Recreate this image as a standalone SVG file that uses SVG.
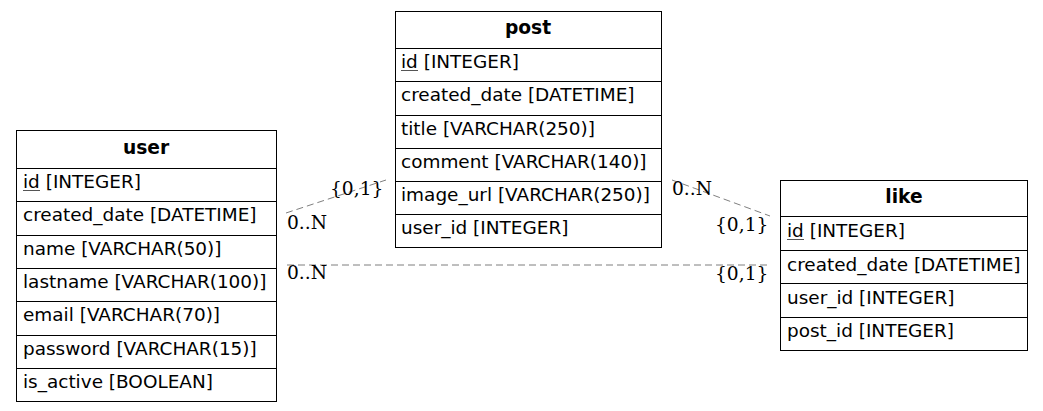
<svg xmlns="http://www.w3.org/2000/svg" width="1043" height="411" viewBox="0 0 1043 411">
<style>
.box{fill:#fff;stroke:#000;stroke-width:1}
.ln{stroke:#000;stroke-width:1}
.ul{stroke:#555;stroke-width:1}
.h{font-family:"DejaVu Sans",sans-serif;font-size:18.67px;font-weight:bold;text-anchor:middle;fill:#000}
.t{font-family:"DejaVu Sans",sans-serif;font-size:18.45px;fill:#000}
.c{fill:none;stroke:#7f7f7f;stroke-width:1;stroke-dasharray:7,4}
.lb{font-family:"DejaVu Serif",serif;font-size:18.67px;fill:#000}
</style>
<rect width="1043" height="411" fill="#fff"/>
<g id="connectors">
<line class="c" x1="286" y1="213" x2="386" y2="180"/>
<text class="lb" x="330" y="195">{0,1}</text>
<text class="lb" x="287" y="229">0..N</text>
<line class="c" x1="672" y1="180" x2="770" y2="216"/>
<text class="lb" x="672" y="195">0..N</text>
<text class="lb" x="715" y="231">{0,1}</text>
<line class="c" x1="287" y1="265" x2="770" y2="265"/>
<text class="lb" x="287" y="279">0..N</text>
<text class="lb" x="715" y="280">{0,1}</text>
</g>
<g id="user">
<rect class="box" x="16.5" y="130.5" width="260" height="271"/>
<line class="ln" x1="16.5" y1="168.5" x2="276.5" y2="168.5"/>
<line class="ln" x1="16.5" y1="201.5" x2="276.5" y2="201.5"/>
<line class="ln" x1="16.5" y1="235.5" x2="276.5" y2="235.5"/>
<line class="ln" x1="16.5" y1="268.5" x2="276.5" y2="268.5"/>
<line class="ln" x1="16.5" y1="301.5" x2="276.5" y2="301.5"/>
<line class="ln" x1="16.5" y1="335.5" x2="276.5" y2="335.5"/>
<line class="ln" x1="16.5" y1="368.5" x2="276.5" y2="368.5"/>
<text class="h" x="146" y="154">user</text>
<text class="t" x="23" y="188">id [INTEGER]</text>
<line class="ul" x1="23" y1="190.5" x2="40" y2="190.5"/>
<text class="t" x="23" y="221">created_date [DATETIME]</text>
<text class="t" x="23" y="255">name [VARCHAR(50)]</text>
<text class="t" x="23" y="288">lastname [VARCHAR(100)]</text>
<text class="t" x="23" y="321">email [VARCHAR(70)]</text>
<text class="t" x="23" y="355">password [VARCHAR(15)]</text>
<text class="t" x="23" y="388">is_active [BOOLEAN]</text>
</g>
<g id="post">
<rect class="box" x="395.5" y="11.5" width="266" height="236"/>
<line class="ln" x1="395.5" y1="48.5" x2="661.5" y2="48.5"/>
<line class="ln" x1="395.5" y1="81.5" x2="661.5" y2="81.5"/>
<line class="ln" x1="395.5" y1="115.5" x2="661.5" y2="115.5"/>
<line class="ln" x1="395.5" y1="148.5" x2="661.5" y2="148.5"/>
<line class="ln" x1="395.5" y1="181.5" x2="661.5" y2="181.5"/>
<line class="ln" x1="395.5" y1="214.5" x2="661.5" y2="214.5"/>
<text class="h" x="528" y="34">post</text>
<text class="t" x="401" y="68">id [INTEGER]</text>
<line class="ul" x1="401" y1="70.5" x2="418" y2="70.5"/>
<text class="t" x="401" y="101">created_date [DATETIME]</text>
<text class="t" x="401" y="135">title [VARCHAR(250)]</text>
<text class="t" x="401" y="168">comment [VARCHAR(140)]</text>
<text class="t" x="401" y="201">image_url [VARCHAR(250)]</text>
<text class="t" x="401" y="234">user_id [INTEGER]</text>
</g>
<g id="like">
<rect class="box" x="780.5" y="180.5" width="247" height="170"/>
<line class="ln" x1="780.5" y1="216.5" x2="1027.5" y2="216.5"/>
<line class="ln" x1="780.5" y1="250.5" x2="1027.5" y2="250.5"/>
<line class="ln" x1="780.5" y1="283.5" x2="1027.5" y2="283.5"/>
<line class="ln" x1="780.5" y1="317.5" x2="1027.5" y2="317.5"/>
<text class="h" x="904" y="203">like</text>
<text class="t" x="787" y="237">id [INTEGER]</text>
<line class="ul" x1="787" y1="239.5" x2="804" y2="239.5"/>
<text class="t" x="787" y="271">created_date [DATETIME]</text>
<text class="t" x="787" y="304">user_id [INTEGER]</text>
<text class="t" x="787" y="337">post_id [INTEGER]</text>
</g>
</svg>
